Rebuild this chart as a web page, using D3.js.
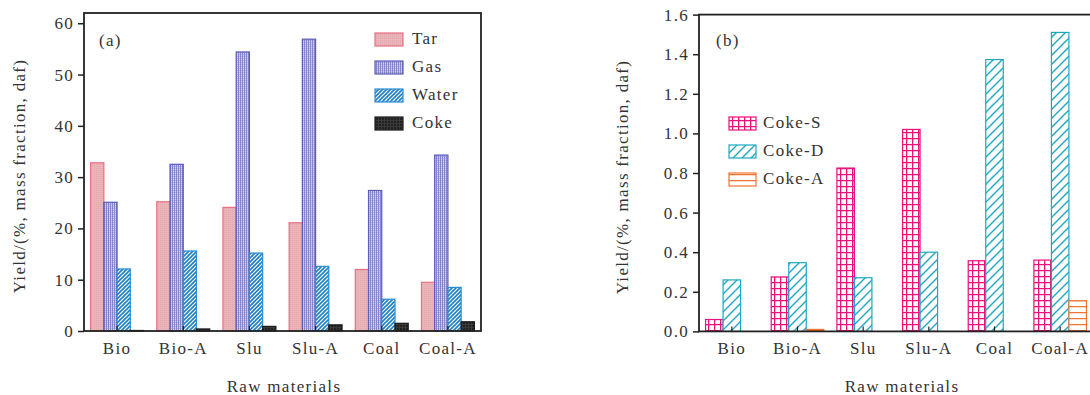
<!DOCTYPE html>
<html>
<head>
<meta charset="utf-8">
<script src="https://cdn.jsdelivr.net/npm/d3@7"></script>
<style>
  html, body { margin: 0; padding: 0; background: #fff; }
</style>
</head>
<body>
<svg id="chart" width="1090" height="395"></svg>
<script>
// Raw materials on the x axis of both panels
const categories = ["Bio", "Bio-A", "Slu", "Slu-A", "Coal", "Coal-A"];

// Panel (a): product yields, % mass fraction (daf)
const seriesA = ["Tar", "Gas", "Water", "Coke"];
const tarYield   = [32.8, 25.2, 24.1, 21.1, 12.0, 9.5];
const gasYield   = [25.1, 32.5, 54.4, 56.9, 27.4, 34.3];
const waterYield = [12.1, 15.6, 15.2, 12.6, 6.2, 8.5];
const cokeYield  = [0.1, 0.4, 0.9, 1.2, 1.5, 1.8];
const ticksA = [0, 10, 20, 30, 40, 50, 60];

// Panel (b): coke split, % mass fraction (daf)
const seriesB = ["Coke-S", "Coke-D", "Coke-A"];
const cokeS = [0.06, 0.275, 0.825, 1.02, 0.357, 0.36];
const cokeD = [0.26, 0.347, 0.271, 0.40, 1.373, 1.51];
const cokeA = [0.0, 0.01, 0.0, 0.0, 0.0, 0.155];
const ticksB = [0, 0.2, 0.4, 0.6, 0.8, 1.0, 1.2, 1.4, 1.6];

const FONT = "'Liberation Serif', 'Times New Roman', 'DejaVu Serif', serif";
const svg = d3.select("#chart");
const defs = svg.append("defs");

function styleText(sel) {
  return sel.attr("font-family", FONT).style("font-family", FONT)
    .style("font-size", "17px").style("letter-spacing", "1.3px").attr("fill", "#333");
}

// ---- fill patterns ----
function pattern(id, w, h, bg, draw) {
  const p = defs.append("pattern").attr("id", id)
    .attr("patternUnits", "userSpaceOnUse").attr("width", w).attr("height", h);
  p.append("rect").attr("width", w).attr("height", h).attr("fill", bg);
  draw(p);
}
pattern("pTar", 2, 2, "#e9b5b9", p => {
  p.append("rect").attr("width", 1).attr("height", 1).attr("fill", "#e3a6ab");
});
pattern("pGas", 2, 2, "#b3b3df", p => {
  p.append("rect").attr("width", 1).attr("height", 2).attr("fill", "#8585c9");
  p.append("rect").attr("x", 1).attr("y", 1).attr("width", 1).attr("height", 1).attr("fill", "#d6d6ef");
});
pattern("pWater", 4, 4, "#ffffff", p => {
  p.append("path").attr("d", "M-1,1 L1,-1 M0,4 L4,0 M3,5 L5,3")
    .attr("stroke", "#1b7fc6").attr("stroke-width", 1.6);
});
pattern("pCoke", 3, 3, "#222", p => {
  p.append("rect").attr("width", 3).attr("height", 1).attr("fill", "#3a3a3a");
  p.append("rect").attr("width", 1).attr("height", 3).attr("fill", "#3a3a3a");
});
pattern("pCokeS", 6, 6, "#ffffff", p => {
  p.append("path").attr("d", "M0,0.5 H6 M0.5,0 V6")
    .attr("stroke", "#e8127c").attr("stroke-width", 1.6);
});
pattern("pCokeD", 9, 9, "#ffffff", p => {
  p.append("path").attr("d", "M-1,1 L1,-1 M0,9 L9,0 M8,10 L10,8")
    .attr("stroke", "#1ea7c2").attr("stroke-width", 1.4);
});
pattern("pCokeA", 6, 6, "#ffffff", p => {
  p.append("path").attr("d", "M0,0.5 H6")
    .attr("stroke", "#f07432").attr("stroke-width", 1.5);
});

const styleA = {
  "Tar":   { fill: "url(#pTar)",   stroke: "#ea6f83" },
  "Gas":   { fill: "url(#pGas)",   stroke: "#5b5bb8" },
  "Water": { fill: "url(#pWater)", stroke: "#2a8cd2" },
  "Coke":  { fill: "url(#pCoke)",  stroke: "#1a1a1a" }
};
const styleB = {
  "Coke-S": { fill: "url(#pCokeS)", stroke: "#e8127c" },
  "Coke-D": { fill: "url(#pCokeD)", stroke: "#1ea7c2" },
  "Coke-A": { fill: "url(#pCokeA)", stroke: "#f07432" }
};

function drawPanel(opt) {
  const { left, right, top, bottom, yMax, series, values, styles, ticks, fmt, tag, legend } = opt;
  const x = d3.scaleBand().domain(categories).range([left, right]);
  const inner = d3.scaleBand().domain(series)
    .range([x.bandwidth() * 0.1, x.bandwidth() * 0.9]);
  const y = d3.scaleLinear().domain([0, yMax]).range([bottom, top]);

  const g = svg.append("g");

  // bars
  series.forEach((s, si) => {
    g.append("g").selectAll("rect").data(values[si]).join("rect")
      .attr("x", (d, i) => x(categories[i]) + inner(s))
      .attr("y", d => y(d))
      .attr("width", inner.bandwidth())
      .attr("height", d => Math.max(0, y(0) - y(d)))
      .attr("fill", styles[s].fill)
      .attr("stroke", styles[s].stroke)
      .attr("stroke-width", 1.2);
  });

  // frame
  g.append("rect").attr("x", left).attr("y", top)
    .attr("width", right - left).attr("height", bottom - top)
    .attr("fill", "none").attr("stroke", "#222").attr("stroke-width", 1.8);

  // y axis
  const ya = g.append("g").attr("transform", `translate(${left},0)`)
    .call(d3.axisLeft(y).tickValues(ticks).tickFormat(fmt).tickSize(6).tickPadding(4));
  ya.attr("font-family", null);
  ya.select(".domain").remove();
  ya.selectAll("line").attr("stroke", "#222").attr("stroke-width", 1.5);
  styleText(ya.selectAll("text"));

  // x axis with inward ticks
  const xa = g.append("g").attr("transform", `translate(0,${bottom})`)
    .call(d3.axisBottom(x).tickSize(-5).tickPadding(11));
  xa.attr("font-family", null);
  xa.select(".domain").remove();
  xa.selectAll("line").attr("stroke", "#222").attr("stroke-width", 1.2);
  styleText(xa.selectAll("text"));

  // axis titles
  styleText(g.append("text").attr("x", opt.xTitleX).attr("y", 392)
    .attr("text-anchor", "middle").text("Raw materials"));
  styleText(g.append("text")
    .attr("transform", `translate(${opt.yTitleX},${(top + bottom) / 2 + 4}) rotate(-90)`)
    .attr("text-anchor", "middle").attr("dominant-baseline", "middle")
    .text("Yield/(%, mass fraction, daf)"));

  // panel tag
  styleText(g.append("text").attr("x", tag.x).attr("y", tag.y).text(tag.text));

  // legend
  series.forEach((s, i) => {
    const ly = legend.y + i * legend.step;
    g.append("rect").attr("x", legend.x).attr("y", ly)
      .attr("width", legend.w).attr("height", 13)
      .attr("fill", styles[s].fill).attr("stroke", styles[s].stroke).attr("stroke-width", 1.2);
    styleText(g.append("text").attr("x", legend.x + legend.w + legend.gap).attr("y", ly + 7)
      .attr("dominant-baseline", "middle").text(s));
  });
}

drawPanel({
  left: 84, right: 481, top: 13, bottom: 331, yMax: 62,
  series: seriesA, values: [tarYield, gasYield, waterYield, cokeYield], styles: styleA,
  ticks: ticksA, fmt: d3.format("d"), yTitleX: 21, xTitleX: 284,
  tag: { text: "(a)", x: 99, y: 46 },
  legend: { x: 375, y: 33, step: 28, w: 28, gap: 9 }
});

drawPanel({
  left: 699, right: 1093, top: 14.6, bottom: 331.4, yMax: 1.6,
  series: seriesB, values: [cokeS, cokeD, cokeA], styles: styleB,
  ticks: ticksB, fmt: d3.format(".1f"), yTitleX: 624, xTitleX: 902,
  tag: { text: "(b)", x: 716, y: 46 },
  legend: { x: 729, y: 117, step: 28, w: 27, gap: 7 }
});
</script>
</body>
</html>
